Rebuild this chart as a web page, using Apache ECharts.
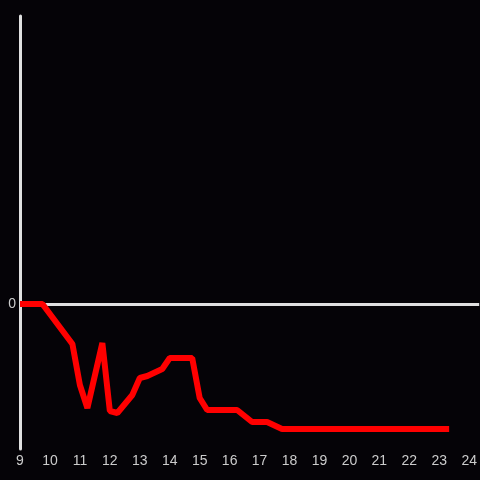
<!DOCTYPE html>
<html>
<head>
<meta charset="utf-8">
<script src="https://cdn.jsdelivr.net/npm/echarts@6/dist/echarts.min.js"></script>
<style>
  html, body { margin: 0; padding: 0; background: #050307; }
  #chart { width: 480px; height: 480px; }
</style>
</head>
<body>
<div id="chart"></div>
<script>
// hours of day and values
var hours = [9, 9.75, 10.75, 11, 11.25, 11.75, 12, 12.25, 12.75, 13, 13.25, 13.75, 14, 14.75, 15, 15.25, 16.25, 16.75, 17.25, 17.75, 23.33];
var values = [0, 0, -40, -81, -104, -39, -107, -109, -91, -74, -72, -65, -54, -54, -94, -106, -106, -118, -118, -125, -125];

var myChart = echarts.init(document.getElementById("chart"));
myChart.setOption({
  backgroundColor: "#050307",
  animation: false,
  grid: {
    left: 20,
    right: 0,
    top: 16,
    bottom: 31,
  },
  xAxis: {
    type: "value",
    min: 9,
    max: 24.333,
    interval: 1,
    axisLine: { show: false, onZero: false },
    axisTick: { show: false },
    splitLine: { show: false },
    axisLabel: {
      color: "#cccccc",
      fontSize: 14,
      margin: 5,
      showMaxLabel: false,
      formatter: function (v) {
        return v <= 24 ? String(v) : "";
      },
    },
  },
  yAxis: {
    type: "value",
    min: -145,
    max: 288,
    interval: 145,
    axisLine: { show: true, lineStyle: { color: "#e0e0e0", width: 3 } },
    axisTick: { show: false },
    splitLine: { show: false },
    axisLabel: {
      color: "#cccccc",
      fontSize: 14,
      margin: 4,
      formatter: function (v) {
        return v === 0 ? "0" : "";
      },
    },
  },
  series: [
    {
      type: "line",
      data: hours.map(function (h, i) { return [h, values[i]]; }),
      symbol: "none",
      lineStyle: { color: "#ff0000", width: 6 },
      z: 3,
      markLine: {
        silent: true,
        symbol: "none",
        label: { show: false },
        lineStyle: { color: "#e0e0e0", width: 3, type: "solid" },
        data: [{ yAxis: 0 }],
        z: 2,
      },
    },
  ],
});
</script>
</body>
</html>
